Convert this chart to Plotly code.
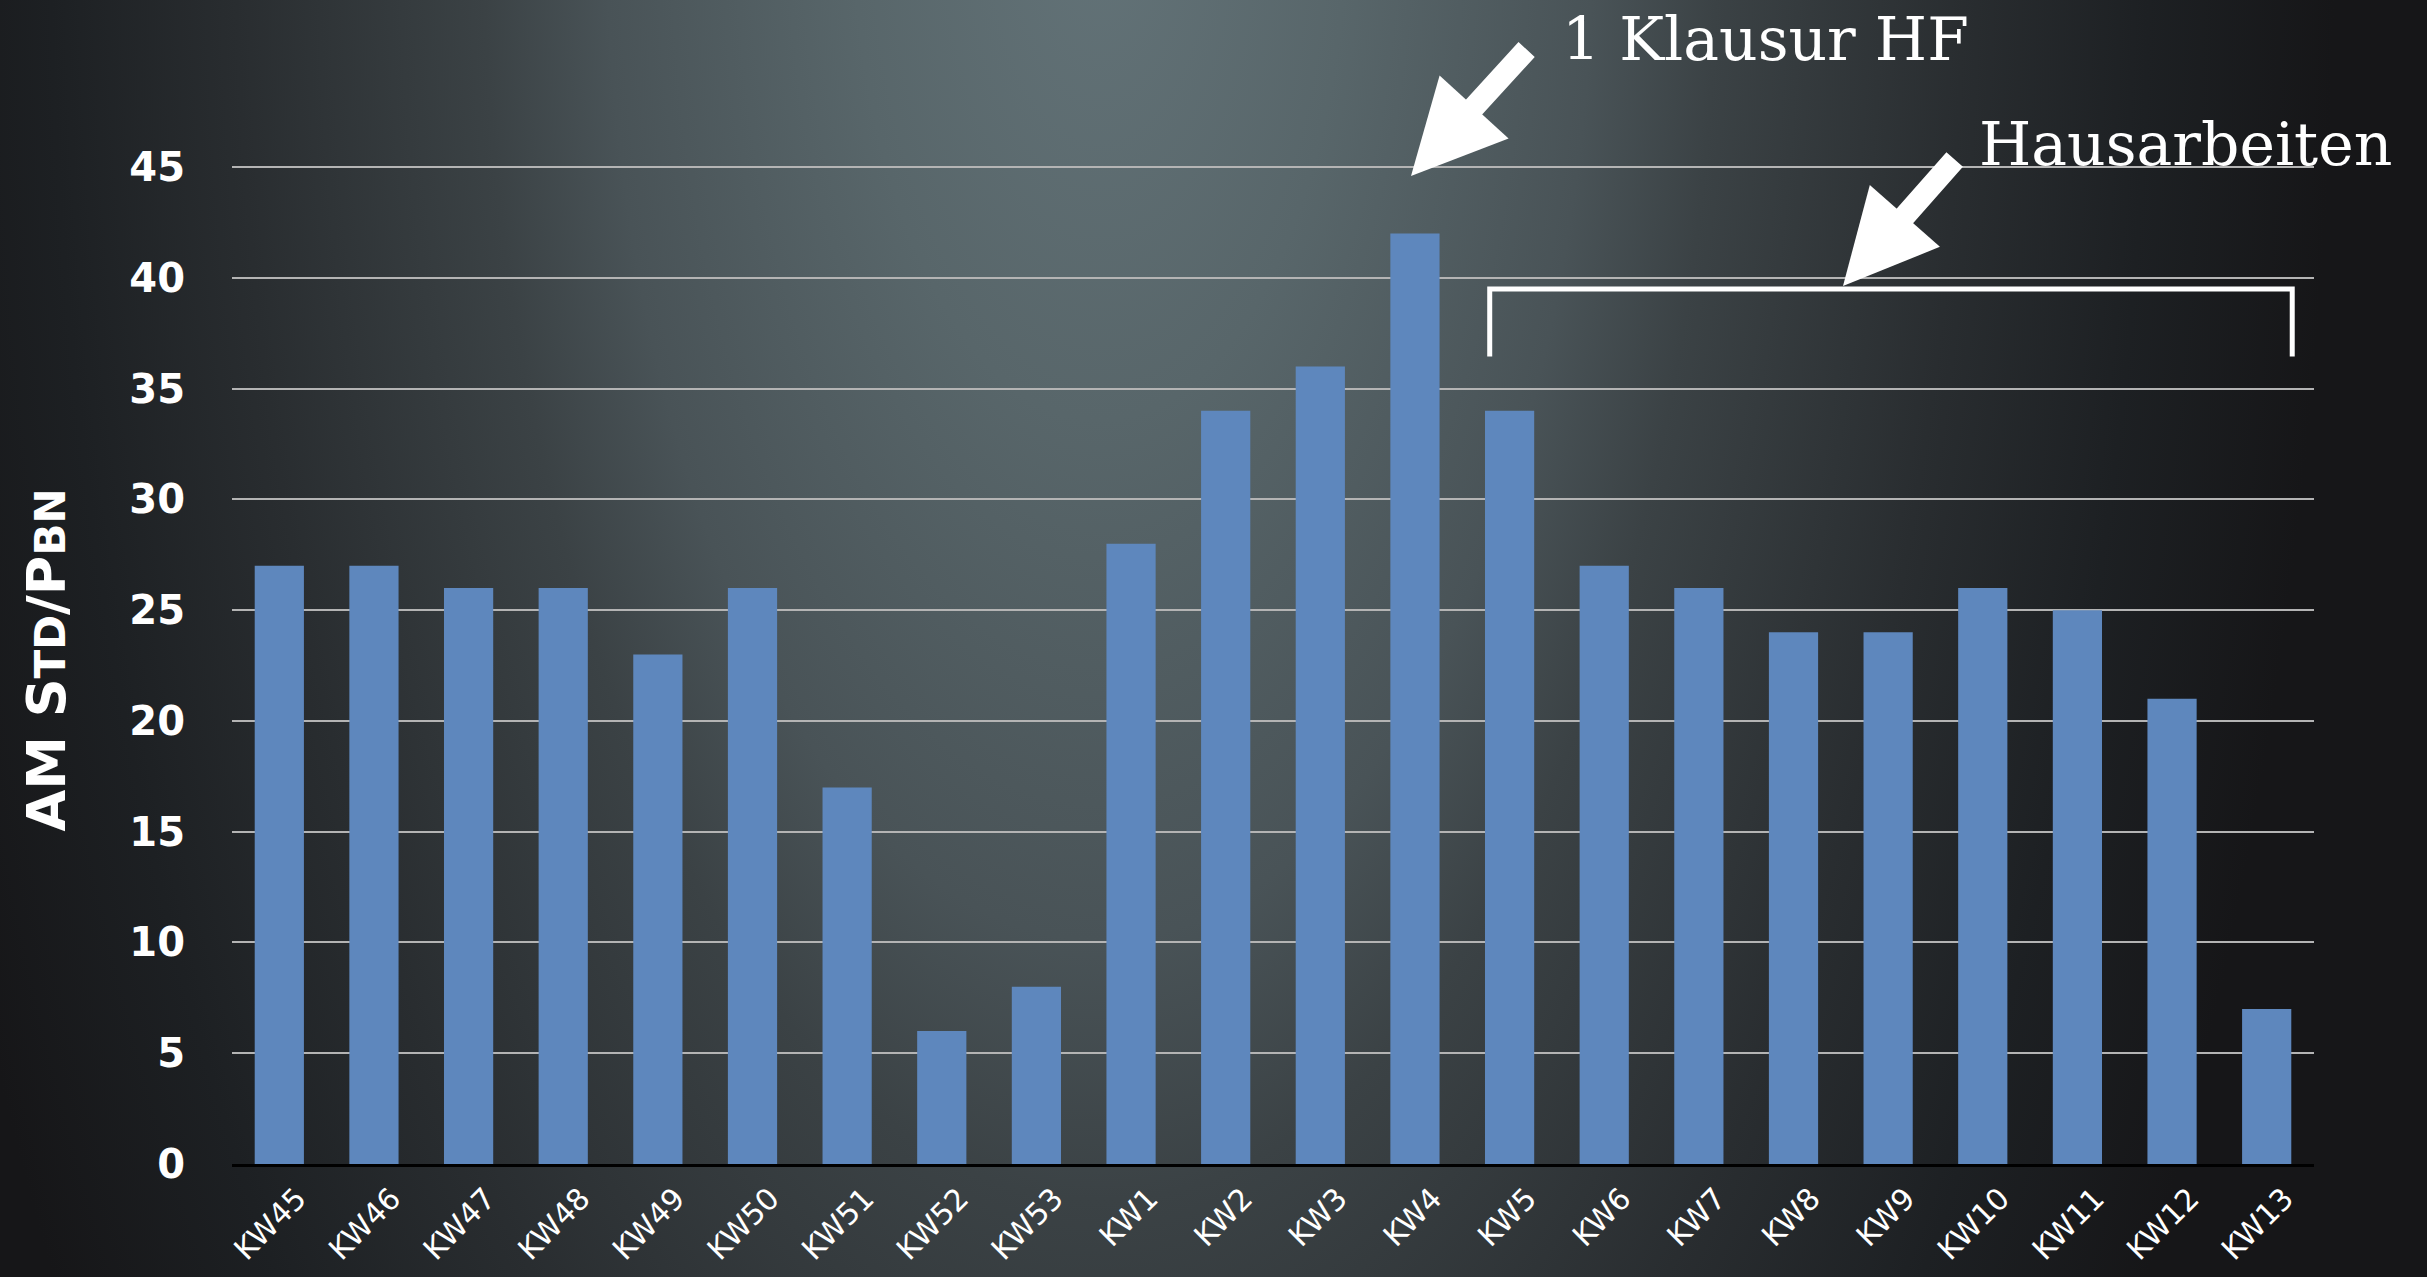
import base64
import plotly.graph_objects as go

# ---- data ----
weeks = ["KW45", "KW46", "KW47", "KW48", "KW49", "KW50", "KW51", "KW52", "KW53",
         "KW1", "KW2", "KW3", "KW4", "KW5", "KW6", "KW7", "KW8", "KW9", "KW10",
         "KW11", "KW12", "KW13"]
hours = [27, 27, 26, 26, 23, 26, 17, 6, 8, 28, 34, 36, 42, 34, 27, 26, 24, 24, 26, 25, 21, 7]
y_ticks = [0, 5, 10, 15, 20, 25, 30, 35, 40, 45]

W, H = 2427, 1277
YMAX = 45.5
ML, MR, MT, MB = 232, 113, 156, 113
PW, PH = W - ML - MR, H - MT - MB

# background spotlight (SVG radial gradient)
svg = (
    f'<svg xmlns="http://www.w3.org/2000/svg" width="{W}" height="{H}">'
    '<defs><radialGradient id="g" gradientUnits="userSpaceOnUse" cx="1100" cy="-100" r="1300" '
    'gradientTransform="translate(1100 -100) scale(0.95 2) translate(-1100 100)">'
    '<stop offset="0" stop-color="#637378"/>'
    '<stop offset="0.2" stop-color="#58666a"/>'
    '<stop offset="0.4" stop-color="#495357"/>'
    '<stop offset="0.5" stop-color="#3b4245"/>'
    '<stop offset="0.7" stop-color="#292d30"/>'
    '<stop offset="0.85" stop-color="#1d2023"/>'
    '<stop offset="1" stop-color="#161618"/>'
    '</radialGradient></defs>'
    f'<rect width="{W}" height="{H}" fill="url(#g)"/></svg>'
)
bg_uri = "data:image/svg+xml;base64," + base64.b64encode(svg.encode()).decode()

fig = go.Figure()
fig.add_trace(go.Bar(x=weeks, y=hours, marker=dict(color="#5e87bd", line=dict(width=0)),
                     showlegend=False, hoverinfo="skip"))


def px(xp):
    return (xp - ML) / PW


def py(yp):
    return (H - MB - yp) / PH


serif = "DejaVu Serif"
annotations = [
    dict(x=px(1560), y=py(39), xref="paper", yref="paper", text="1 Klausur HF",
         showarrow=False, xanchor="left", yanchor="middle",
         font=dict(family=serif, size=60, color="white")),
    dict(x=px(1977), y=py(144), xref="paper", yref="paper", text="Hausarbeiten",
         showarrow=False, xanchor="left", yanchor="middle",
         font=dict(family=serif, size=60, color="white")),
    dict(x=px(1411), y=py(176), xref="paper", yref="paper", text="", showarrow=True,
         ax=117, ay=-128, arrowhead=2, arrowwidth=22, arrowsize=0.85, arrowcolor="white"),
    dict(x=px(1843), y=py(286), xref="paper", yref="paper", text="", showarrow=True,
         ax=113, ay=-128, arrowhead=2, arrowwidth=22, arrowsize=0.85, arrowcolor="white"),
]

# bracket over KW5..KW13
shapes = [
    dict(type="path", xref="x", yref="y",
         path="M 12.79 36.45 L 12.79 39.5 L 21.27 39.5 L 21.27 36.45",
         line=dict(color="white", width=5), layer="above"),
]

fig.update_layout(
    width=W, height=H,
    margin=dict(l=ML, r=MR, t=MT, b=MB),
    paper_bgcolor="#161618",
    plot_bgcolor="rgba(0,0,0,0)",
    bargap=0.48,
    images=[dict(source=bg_uri, xref="paper", yref="paper",
                 x=-ML / PW, y=1 + MT / PH, sizex=W / PW, sizey=H / PH,
                 xanchor="left", yanchor="top", sizing="stretch", layer="below")],
    annotations=annotations,
    shapes=shapes,
    xaxis=dict(
        type="category",
        tickangle=-45,
        tickfont=dict(family="DejaVu Sans", size=30, color="white"),
        showgrid=False, showline=True, linecolor="black", linewidth=3,
        ticks="", zeroline=False,
        ticklabelstandoff=2,
        ticklabelshift=18,
        automargin=False,
    ),
    yaxis=dict(
        range=[0, YMAX],
        tickvals=y_ticks,
        ticktext=[str(v) for v in y_ticks],
        tickfont=dict(family="DejaVu Sans", size=40, color="white", weight="bold"),
        showgrid=True, gridcolor="#b4b4b4", gridwidth=2,
        zeroline=False, showline=False, ticks="",
        ticklabelstandoff=46,
        title=dict(
            text="AM S<span style='font-size:42px'>TD</span>/P<span style='font-size:42px'>BN</span>",
            font=dict(family="DejaVu Sans", size=54, color="white", weight="bold"),
            standoff=46,
        ),
        automargin=False,
    ),
)

fig.write_html("out.html", config={"displayModeBar": False},
               post_script="document.body.style.margin='0';")
